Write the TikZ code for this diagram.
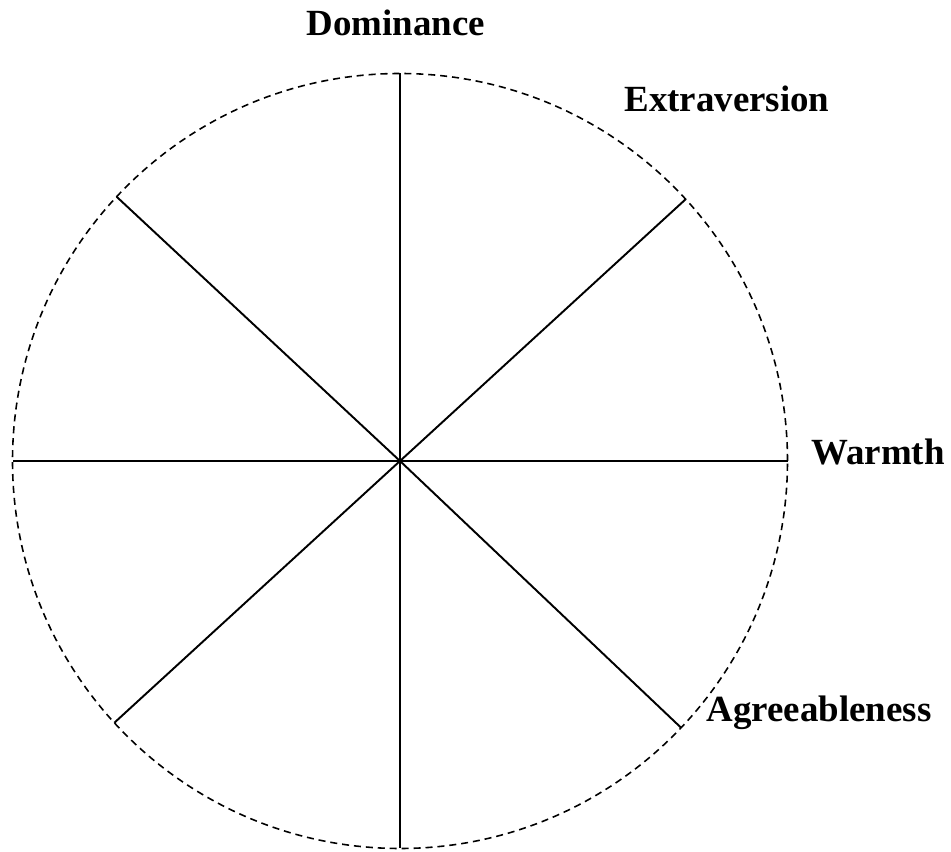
\documentclass[tikz,border=0pt]{standalone}
\usepackage{fontspec}
\setmainfont{Liberation Serif}
\usetikzlibrary{positioning}
\tikzset{
    axis line/.style={line width=1.1pt}, % solid spokes
    rim/.style={line width=0.9pt, dash pattern=on 4pt off 2.8pt}, % dashed outer circle
    trait/.style={font=\fontsize{21}{25}\selectfont\bfseries, inner sep=0pt, anchor=base} % axis labels
}
\begin{document}
\begin{tikzpicture}[x=0.02cm, y=0.02cm]
    \def\R{387.5}
    \useasboundingbox (0,0) rectangle (951,852);
    \coordinate (c) at (400,391);

    \draw[rim] (c) circle (\R);

    \foreach \a/\n in {90/n, 270/s, 0/e, 180/w, 42.5/ne, 137/nw, 222.5/sw, 316.5/se} {
        \path (c) ++(\a:\R) coordinate (e-\n);
        \draw[axis line] (c) -- (e-\n);
    }

    \node[trait] (dom) at (396,816) {Dominance};
    \node[trait] (ext) at (727,740) {Extraversion};
    \node[trait] (warm) at (878,387) {Warmth};
    \node[trait] (agr) at (819,130) {Agreeableness};
\end{tikzpicture}
\end{document}
